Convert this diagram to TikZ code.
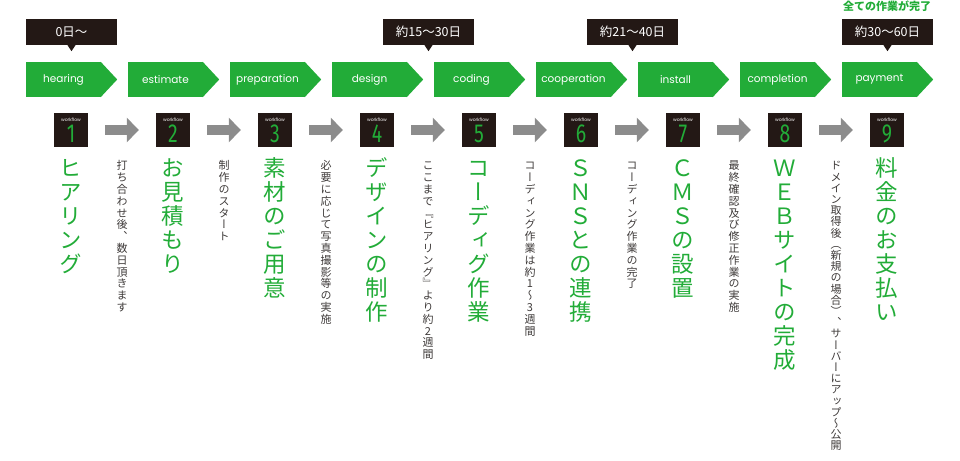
\documentclass[tikz,border=0pt]{standalone}
\usepackage{fontspec}
\newfontfamily\jpfont{Noto Sans CJK JP}
\newfontfamily\jpvert[RawFeature=+vert]{Noto Sans CJK JP}
\newfontfamily\labfont{Poppins}
\newfontfamily\numfont[FakeStretch=0.75]{Fira Sans}
\usepackage{tikz}
\usetikzlibrary{positioning,arrows.meta}

\definecolor{flowgreen}{HTML}{22AC38}
\definecolor{flowblack}{HTML}{231815}
\definecolor{flowgray}{HTML}{8C8C8C}
\definecolor{notegray}{HTML}{3E3A39}

% one character per line, upright
\newcommand\tatechar[1]{\hbox to 1em{\hss\vrule width 0pt height .88em depth .12em\relax #1\hss}}
\ExplSyntaxOn
\NewDocumentCommand\tate{mm}{\vbox{\offinterlineskip\tl_map_inline:nn{#2}{\tatechar{##1}\kern\dimexpr#1-1em\relax}}}
\ExplSyntaxOff

\begin{document}
\begin{tikzpicture}[x=1pt, y=-1pt,
  stage/.style={fill=flowgreen, text=white, minimum width=75, minimum height=35, inner sep=0pt, font=\labfont\fontsize{10.5pt}{12pt}\selectfont},
  days/.style={fill=flowblack, text=white, minimum width=91, minimum height=26, inner sep=0pt, font=\jpfont\fontsize{12.5pt}{14pt}\selectfont},
  wfbox/.style={fill=flowblack, minimum size=34, inner sep=0pt},
  wftag/.style={text=white, inner sep=0pt, font=\labfont\fontsize{4.5pt}{5pt}\selectfont},
  wfnum/.style={text=flowgreen, inner sep=0pt, font=\numfont\fontsize{26pt}{26pt}\selectfont},
  flowarrow/.style={draw=flowgray, line width=10pt, -{Triangle[length=12pt, width=24pt]}, shorten <=17pt, shorten >=17pt},
  title/.style={anchor=north, inner sep=0pt, text=flowgreen, font=\jpvert\fontsize{22.5pt}{24pt}\selectfont},
  note/.style={anchor=north, inner sep=0pt, text=notegray, font=\jpvert\fontsize{11pt}{12pt}\selectfont}]

\useasboundingbox (0,0) rectangle (960,460);

% stages
\node[stage] (st1) at (63.5,79.5) {hearing};
\node[stage] (st2) at (165.5,79.5) {estimate};
\node[stage] (st3) at (267.5,79.5) {preparation};
\node[stage] (st4) at (369.5,79.5) {design};
\node[stage] (st5) at (471.5,79.5) {coding};
\node[stage] (st6) at (573.5,79.5) {cooperation};
\node[stage] (st7) at (675.5,79.5) {install};
\node[stage] (st8) at (777.5,79.5) {completion};
\node[stage] (st9) at (879.5,79.5) {payment};
\fill[flowgreen] ([xshift=-.5]st1.north east) -- ([xshift=16]st1.east) -- ([xshift=-.5]st1.south east) -- cycle;
\fill[flowgreen] ([xshift=-.5]st2.north east) -- ([xshift=16]st2.east) -- ([xshift=-.5]st2.south east) -- cycle;
\fill[flowgreen] ([xshift=-.5]st3.north east) -- ([xshift=16]st3.east) -- ([xshift=-.5]st3.south east) -- cycle;
\fill[flowgreen] ([xshift=-.5]st4.north east) -- ([xshift=16]st4.east) -- ([xshift=-.5]st4.south east) -- cycle;
\fill[flowgreen] ([xshift=-.5]st5.north east) -- ([xshift=16]st5.east) -- ([xshift=-.5]st5.south east) -- cycle;
\fill[flowgreen] ([xshift=-.5]st6.north east) -- ([xshift=16]st6.east) -- ([xshift=-.5]st6.south east) -- cycle;
\fill[flowgreen] ([xshift=-.5]st7.north east) -- ([xshift=16]st7.east) -- ([xshift=-.5]st7.south east) -- cycle;
\fill[flowgreen] ([xshift=-.5]st8.north east) -- ([xshift=16]st8.east) -- ([xshift=-.5]st8.south east) -- cycle;
\fill[flowgreen] ([xshift=-.5]st9.north east) -- ([xshift=16]st9.east) -- ([xshift=-.5]st9.south east) -- cycle;

% day callouts
\node[days] (dy1) at (71.5,32) {0日〜};
\node[days] (dy2) at (428.5,32) {約15〜30日};
\node[days] (dy3) at (632.5,32) {約21〜40日};
\node[days] (dy4) at (887.5,32) {約30〜60日};
\fill[flowblack] ([xshift=-4]dy1.south) -- ([xshift=4]dy1.south) -- ([yshift=-6]dy1.south) -- cycle;
\fill[flowblack] ([xshift=-4]dy2.south) -- ([xshift=4]dy2.south) -- ([yshift=-6]dy2.south) -- cycle;
\fill[flowblack] ([xshift=-4]dy3.south) -- ([xshift=4]dy3.south) -- ([yshift=-6]dy3.south) -- cycle;
\fill[flowblack] ([xshift=-4]dy4.south) -- ([xshift=4]dy4.south) -- ([yshift=-6]dy4.south) -- cycle;
\node[text=flowgreen, inner sep=0pt, font=\jpfont\bfseries\fontsize{11pt}{12pt}\selectfont] (done) at (887,6) {全ての作業が完了};

% workflow boxes
\node[wfbox] (wf1) at (71,130) {};
\node[wfbox] (wf2) at (173,130) {};
\node[wfbox] (wf3) at (275,130) {};
\node[wfbox] (wf4) at (377,130) {};
\node[wfbox] (wf5) at (479,130) {};
\node[wfbox] (wf6) at (581,130) {};
\node[wfbox] (wf7) at (683,130) {};
\node[wfbox] (wf8) at (785,130) {};
\node[wfbox] (wf9) at (887,130) {};
\node[wftag] (tg1) at ([yshift=-7]wf1.north) {workflow};
\node[wftag] (tg2) at ([yshift=-7]wf2.north) {workflow};
\node[wftag] (tg3) at ([yshift=-7]wf3.north) {workflow};
\node[wftag] (tg4) at ([yshift=-7]wf4.north) {workflow};
\node[wftag] (tg5) at ([yshift=-7]wf5.north) {workflow};
\node[wftag] (tg6) at ([yshift=-7]wf6.north) {workflow};
\node[wftag] (tg7) at ([yshift=-7]wf7.north) {workflow};
\node[wftag] (tg8) at ([yshift=-7]wf8.north) {workflow};
\node[wftag] (tg9) at ([yshift=-7]wf9.north) {workflow};
\node[wfnum] (nm1) at ([yshift=-3.5]wf1.center) {1};
\node[wfnum] (nm2) at ([yshift=-3.5]wf2.center) {2};
\node[wfnum] (nm3) at ([yshift=-3.5]wf3.center) {3};
\node[wfnum] (nm4) at ([yshift=-3.5]wf4.center) {4};
\node[wfnum] (nm5) at ([yshift=-3.5]wf5.center) {5};
\node[wfnum] (nm6) at ([yshift=-3.5]wf6.center) {6};
\node[wfnum] (nm7) at ([yshift=-3.5]wf7.center) {7};
\node[wfnum] (nm8) at ([yshift=-3.5]wf8.center) {8};
\node[wfnum] (nm9) at ([yshift=-3.5]wf9.center) {9};

% arrows
\draw[flowarrow] (wf1) -- (wf2);
\draw[flowarrow] (wf2) -- (wf3);
\draw[flowarrow] (wf3) -- (wf4);
\draw[flowarrow] (wf4) -- (wf5);
\draw[flowarrow] (wf5) -- (wf6);
\draw[flowarrow] (wf6) -- (wf7);
\draw[flowarrow] (wf7) -- (wf8);
\draw[flowarrow] (wf8) -- (wf9);

% titles
\node[title] (ti1) at (71,156) {\tate{24pt}{ヒアリング}};
\node[title] (ti2) at (173,156) {\tate{24pt}{お見積もり}};
\node[title] (ti3) at (275,156) {\tate{24pt}{素材のご用意}};
\node[title] (ti4) at (377,156) {\tate{24pt}{デザインの制作}};
\node[title] (ti5) at (479,156) {\tate{24pt}{コーディグ作業}};
\node[title] (ti6) at (581,156) {\tate{24pt}{ＳＮＳとの連携}};
\node[title] (ti7) at (683,156) {\tate{24pt}{ＣＭＳの設置}};
\node[title] (ti8) at (785,156) {\tate{24pt}{ＷＥＢサイトの完成}};
\node[title] (ti9) at (887,156) {\tate{24pt}{料金のお支払い}};

% notes
\node[note] (nt1) at (122,160) {\tate{11.8pt}{打ち合わせ後、数日頂きます}};
\node[note] (nt2) at (224,160) {\tate{11.8pt}{制作のスタート}};
\node[note] (nt3) at (326,160) {\tate{11.8pt}{必要に応じて写真撮影等の実施}};
\node[note] (nt4) at (428,160) {\tate{11.8pt}{ここまで『ヒアリング』より約2週間}};
\node[note] (nt5) at (530,160) {\tate{11.8pt}{コーディング作業は約1〜3週間}};
\node[note] (nt6) at (632,160) {\tate{11.8pt}{コーディング作業の完了}};
\node[note] (nt7) at (734,160) {\tate{11.8pt}{最終確認及び修正作業の実施}};
\node[note] (nt8) at (836,160) {\tate{11.2pt}{ドメイン取得後（新規の場合）、サーバーにアップ〜公開}};

\end{tikzpicture}
\end{document}
